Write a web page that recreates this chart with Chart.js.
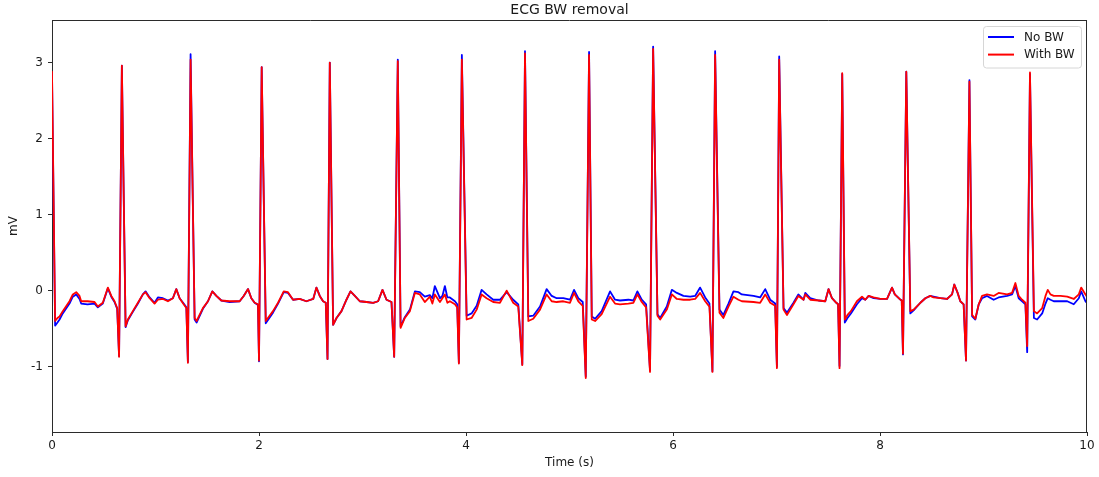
<!DOCTYPE html>
<html>
<head>
<meta charset="utf-8">
<title>ECG BW removal</title>
<script src="https://cdn.jsdelivr.net/npm/chart.js@4/dist/chart.umd.min.js"></script>
<style>
  html, body { margin: 0; padding: 0; background: #fff; }
  #wrap { width: 1099px; height: 477px; position: relative; }
</style>
</head>
<body>
<div id="wrap"><canvas id="ecg"></canvas></div>
<script>
// Sample times (s), one shared time base for both traces, grouped per heartbeat
const timeSec = [
  0, 0.03, 0.053, 0.073, 0.104, 0.169, 0.201, 0.234, 0.266, 0.282, 0.343, 0.411, 0.443, 0.491, 0.540, 0.573, 0.604, 0.630, 0.648, 0.675,
  0.711, 0.733, 0.781, 0.830, 0.878, 0.904, 0.943, 0.991, 1.023, 1.072, 1.120, 1.168, 1.201, 1.233, 1.272, 1.298, 1.313, 1.339,
  1.378, 1.397, 1.458, 1.507, 1.549, 1.588, 1.636, 1.717, 1.813, 1.852, 1.894, 1.926, 1.958, 1.990, 2.000, 2.026,
  2.065, 2.135, 2.184, 2.239, 2.280, 2.329, 2.393, 2.458, 2.524, 2.555, 2.587, 2.619, 2.645, 2.662, 2.684,
  2.716, 2.749, 2.797, 2.845, 2.884, 2.926, 2.974, 3.039, 3.103, 3.151, 3.193, 3.232, 3.280, 3.306, 3.341,
  3.368, 3.409, 3.458, 3.506, 3.554, 3.602, 3.651, 3.675, 3.699, 3.748, 3.772, 3.796, 3.820, 3.844, 3.893, 3.915, 3.931, 3.960,
  4.006, 4.054, 4.103, 4.151, 4.199, 4.263, 4.328, 4.393, 4.456, 4.505, 4.544, 4.570,
  4.602, 4.650, 4.715, 4.779, 4.828, 4.876, 4.940, 5.005, 5.044, 5.085, 5.128, 5.157, 5.189,
  5.215, 5.247, 5.311, 5.392, 5.440, 5.488, 5.569, 5.617, 5.656, 5.698, 5.740, 5.778, 5.808,
  5.850, 5.876, 5.940, 5.989, 6.037, 6.101, 6.166, 6.214, 6.262, 6.311, 6.352, 6.381, 6.407,
  6.449, 6.487, 6.536, 6.584, 6.632, 6.665, 6.778, 6.842, 6.891, 6.939, 6.987, 7.004, 7.026,
  7.068, 7.101, 7.164, 7.211, 7.261, 7.278, 7.326, 7.406, 7.471, 7.503, 7.536, 7.578, 7.595, 7.609, 7.635,
  7.660, 7.686, 7.719, 7.777, 7.826, 7.858, 7.890, 7.938, 8.003, 8.068, 8.116, 8.143, 8.189, 8.210, 8.222, 8.254,
  8.293, 8.325, 8.390, 8.438, 8.486, 8.517, 8.583, 8.647, 8.696, 8.718, 8.750, 8.776, 8.808, 8.831, 8.864,
  8.890, 8.921, 8.954, 8.986, 9.034, 9.098, 9.146, 9.228, 9.276, 9.308, 9.340, 9.373, 9.405, 9.422, 9.449,
  9.487, 9.518, 9.567, 9.599, 9.621, 9.647, 9.679, 9.744, 9.809, 9.872, 9.921, 9.944, 9.985, 10.0
];

// Baseline-corrected trace (mV)
const noBW = [
  2.85, -0.46, -0.42, -0.38, -0.30, -0.17, -0.08, -0.05, -0.11, -0.17, -0.18, -0.17, -0.22, -0.17, 0.03, -0.08, -0.15, -0.24, -0.86, 2.96,
  -0.48, -0.39, -0.28, -0.17, -0.05, -0.01, -0.09, -0.16, -0.09, -0.10, -0.13, -0.10, 0.02, -0.10, -0.17, -0.22, -0.94, 3.11,
  -0.38, -0.42, -0.24, -0.14, -0.01, -0.07, -0.13, -0.15, -0.14, -0.07, 0.02, -0.10, -0.16, -0.19, -0.93, 2.94,
  -0.43, -0.29, -0.17, -0.02, -0.03, -0.12, -0.11, -0.14, -0.11, 0.04, -0.07, -0.14, -0.16, -0.90, 3.00,
  -0.45, -0.36, -0.27, -0.12, -0.01, -0.07, -0.14, -0.15, -0.16, -0.14, 0.01, -0.12, -0.15, -0.87, 3.04,
  -0.47, -0.35, -0.25, -0.01, -0.02, -0.08, -0.06, -0.10, 0.06, -0.10, -0.07, 0.06, -0.09, -0.09, -0.14, -0.18, -0.95, 3.10,
  -0.33, -0.30, -0.20, 0.01, -0.05, -0.12, -0.12, -0.02, -0.12, -0.18, -0.97, 3.15,
  -0.34, -0.33, -0.21, 0.02, -0.07, -0.10, -0.10, -0.12, 0.01, -0.10, -0.15, -1.13, 3.14,
  -0.34, -0.37, -0.27, -0.01, -0.12, -0.13, -0.12, -0.13, -0.01, -0.12, -0.18, -1.05, 3.21,
  -0.31, -0.36, -0.21, 0.01, -0.03, -0.07, -0.08, -0.07, 0.04, -0.09, -0.17, -1.06, 3.15,
  -0.25, -0.32, -0.17, -0.01, -0.02, -0.05, -0.07, -0.09, 0.02, -0.12, -0.17, -1.00, 3.08,
  -0.23, -0.29, -0.16, -0.05, -0.12, -0.03, -0.10, -0.13, -0.14, 0.02, -0.10, -0.16, -0.18, -0.99, 2.85,
  -0.42, -0.36, -0.30, -0.18, -0.10, -0.12, -0.07, -0.10, -0.11, -0.11, 0.04, -0.05, -0.11, -0.13, -0.84, 2.88,
  -0.30, -0.26, -0.16, -0.10, -0.07, -0.08, -0.10, -0.11, -0.05, 0.08, -0.03, -0.14, -0.18, -0.92, 2.77,
  -0.34, -0.38, -0.18, -0.10, -0.07, -0.12, -0.09, -0.07, -0.05, 0.06, -0.10, -0.14, -0.18, -0.81, 2.85,
  -0.36, -0.38, -0.30, -0.17, -0.10, -0.12, -0.14, -0.14, -0.14, -0.18, -0.10, -0.01, -0.14, -0.16
];

// Recorded trace with baseline wander (mV)
const withBW = [
  2.88, -0.40, -0.36, -0.34, -0.27, -0.14, -0.05, -0.02, -0.07, -0.14, -0.14, -0.15, -0.21, -0.16, 0.04, -0.07, -0.14, -0.23, -0.87, 2.96,
  -0.47, -0.38, -0.27, -0.16, -0.05, -0.02, -0.10, -0.17, -0.12, -0.11, -0.14, -0.10, 0.02, -0.10, -0.18, -0.23, -0.95, 3.04,
  -0.36, -0.40, -0.23, -0.14, -0.01, -0.07, -0.13, -0.14, -0.14, -0.07, 0.02, -0.10, -0.16, -0.18, -0.92, 2.94,
  -0.40, -0.27, -0.16, -0.01, -0.02, -0.12, -0.11, -0.14, -0.11, 0.04, -0.07, -0.14, -0.16, -0.90, 3.00,
  -0.45, -0.36, -0.27, -0.12, -0.01, -0.07, -0.14, -0.15, -0.16, -0.14, 0.01, -0.12, -0.15, -0.87, 3.02,
  -0.49, -0.36, -0.27, -0.03, -0.05, -0.15, -0.08, -0.17, -0.05, -0.15, -0.10, -0.05, -0.16, -0.14, -0.18, -0.22, -0.96, 3.04,
  -0.38, -0.36, -0.25, -0.05, -0.10, -0.15, -0.16, 0.00, -0.16, -0.21, -0.98, 3.12,
  -0.40, -0.37, -0.25, -0.05, -0.14, -0.15, -0.14, -0.16, -0.03, -0.14, -0.20, -1.15, 3.10,
  -0.38, -0.40, -0.31, -0.08, -0.17, -0.18, -0.17, -0.16, -0.05, -0.15, -0.22, -1.07, 3.18,
  -0.33, -0.38, -0.25, -0.05, -0.11, -0.12, -0.12, -0.11, -0.03, -0.14, -0.21, -1.07, 3.10,
  -0.29, -0.36, -0.21, -0.08, -0.12, -0.14, -0.15, -0.16, -0.05, -0.16, -0.20, -1.02, 3.04,
  -0.25, -0.32, -0.18, -0.07, -0.12, -0.05, -0.12, -0.13, -0.14, 0.02, -0.10, -0.16, -0.18, -1.02, 2.86,
  -0.38, -0.32, -0.27, -0.14, -0.08, -0.12, -0.07, -0.09, -0.11, -0.11, 0.04, -0.05, -0.11, -0.13, -0.83, 2.88,
  -0.27, -0.25, -0.16, -0.10, -0.07, -0.09, -0.10, -0.11, -0.05, 0.08, -0.03, -0.14, -0.18, -0.92, 2.75,
  -0.32, -0.37, -0.18, -0.07, -0.05, -0.07, -0.03, -0.05, -0.03, 0.10, -0.07, -0.12, -0.16, -0.73, 2.87,
  -0.27, -0.30, -0.23, -0.07, 0.01, -0.05, -0.07, -0.07, -0.08, -0.11, -0.05, 0.04, -0.05, -0.08
];

const seriesNames = ['No BW', 'With BW'];
const xTicks = [0, 2, 4, 6, 8, 10];
const yTicks = [-1, 0, 1, 2, 3];

const FONT = 'DejaVu Sans';
const INK = '#1a1a1a';
const SPINE = '#2b2b2b';

const toPoints = vals => timeSec.map((t, i) => ({ x: t, y: vals[i] }));

// Title, closing spines and an in-axes legend box
const decorations = {
  id: 'decorations',
  afterDraw(chart) {
    const { ctx, chartArea: a } = chart;
    ctx.save();
    // top and right spines
    ctx.strokeStyle = SPINE;
    ctx.lineWidth = 1;
    ctx.beginPath();
    ctx.moveTo(a.left, a.top + 0.5);
    ctx.lineTo(a.right, a.top + 0.5);
    ctx.moveTo(a.right - 0.5, a.top);
    ctx.lineTo(a.right - 0.5, a.bottom);
    ctx.stroke();

    // title
    ctx.fillStyle = INK;
    ctx.font = `14px "${FONT}"`;
    ctx.textAlign = 'center';
    ctx.textBaseline = 'middle';
    ctx.fillText('ECG BW removal', (a.left + a.right) / 2, 10.5);

    // legend
    const bx = a.right - 104, by = a.top + 6.5, bw = 98, bh = 41.5;
    ctx.beginPath();
    if (ctx.roundRect) ctx.roundRect(bx + 0.5, by, bw, bh, 3); else ctx.rect(bx + 0.5, by, bw, bh);
    ctx.fillStyle = 'rgba(255,255,255,0.8)';
    ctx.fill();
    ctx.strokeStyle = '#d6d6d6';
    ctx.stroke();
    const sets = chart.data.datasets;
    ctx.font = `12px "${FONT}"`;
    ctx.textAlign = 'left';
    ctx.textBaseline = 'middle';
    seriesNames.forEach((name, i) => {
      const y = by + 10.5 + i * 17.6;
      ctx.strokeStyle = sets[i].borderColor;
      ctx.lineWidth = 2;
      ctx.beginPath();
      ctx.moveTo(bx + 5, y);
      ctx.lineTo(bx + 31, y);
      ctx.stroke();
      ctx.fillStyle = INK;
      ctx.fillText(name, bx + 41, y + 0.5);
    });
    ctx.restore();
  }
};

new Chart(document.getElementById('ecg'), {
  type: 'line',
  data: {
    datasets: [
      { label: seriesNames[0], data: toPoints(noBW), borderColor: '#0000ff', order: 2 },
      { label: seriesNames[1], data: toPoints(withBW), borderColor: '#ff0000', order: 1 }
    ]
  },
  options: {
    responsive: true,
    maintainAspectRatio: false,
    animation: false,
    events: [],
    layout: { padding: { top: 20, right: 12, left: 0, bottom: 0 } },
    elements: {
      line: { borderWidth: 1.8, tension: 0, fill: false, borderJoinStyle: 'round', borderCapStyle: 'round' },
      point: { radius: 0 }
    },
    plugins: { legend: { display: false }, title: { display: false }, tooltip: { enabled: false } },
    scales: {
      x: {
        type: 'linear',
        min: 0, max: 10,
        afterBuildTicks: s => { s.ticks = xTicks.map(v => ({ value: v })); },
        afterFit: s => { s.height = 45; },
        ticks: { color: INK, font: { family: FONT, size: 12 }, padding: 3, maxRotation: 0 },
        grid: { drawOnChartArea: false, drawTicks: true, tickLength: 4, color: SPINE },
        border: { display: true, color: SPINE, width: 1 },
        title: { display: true, text: 'Time (s)', color: INK, font: { family: FONT, size: 12 }, padding: { top: 0, bottom: 7 } }
      },
      y: {
        type: 'linear',
        min: -1.86, max: 3.56,
        afterBuildTicks: s => { s.ticks = yTicks.map(v => ({ value: v })); },
        afterFit: s => { s.width = 52; },
        ticks: { color: INK, font: { family: FONT, size: 12 }, padding: 5 },
        grid: { drawOnChartArea: false, drawTicks: true, tickLength: 4, color: SPINE },
        border: { display: true, color: SPINE, width: 1 },
        title: { display: true, text: 'mV', color: INK, font: { family: FONT, size: 12 }, padding: { top: 7, bottom: 0 } }
      }
    }
  },
  plugins: [decorations]
});
</script>
</body>
</html>
